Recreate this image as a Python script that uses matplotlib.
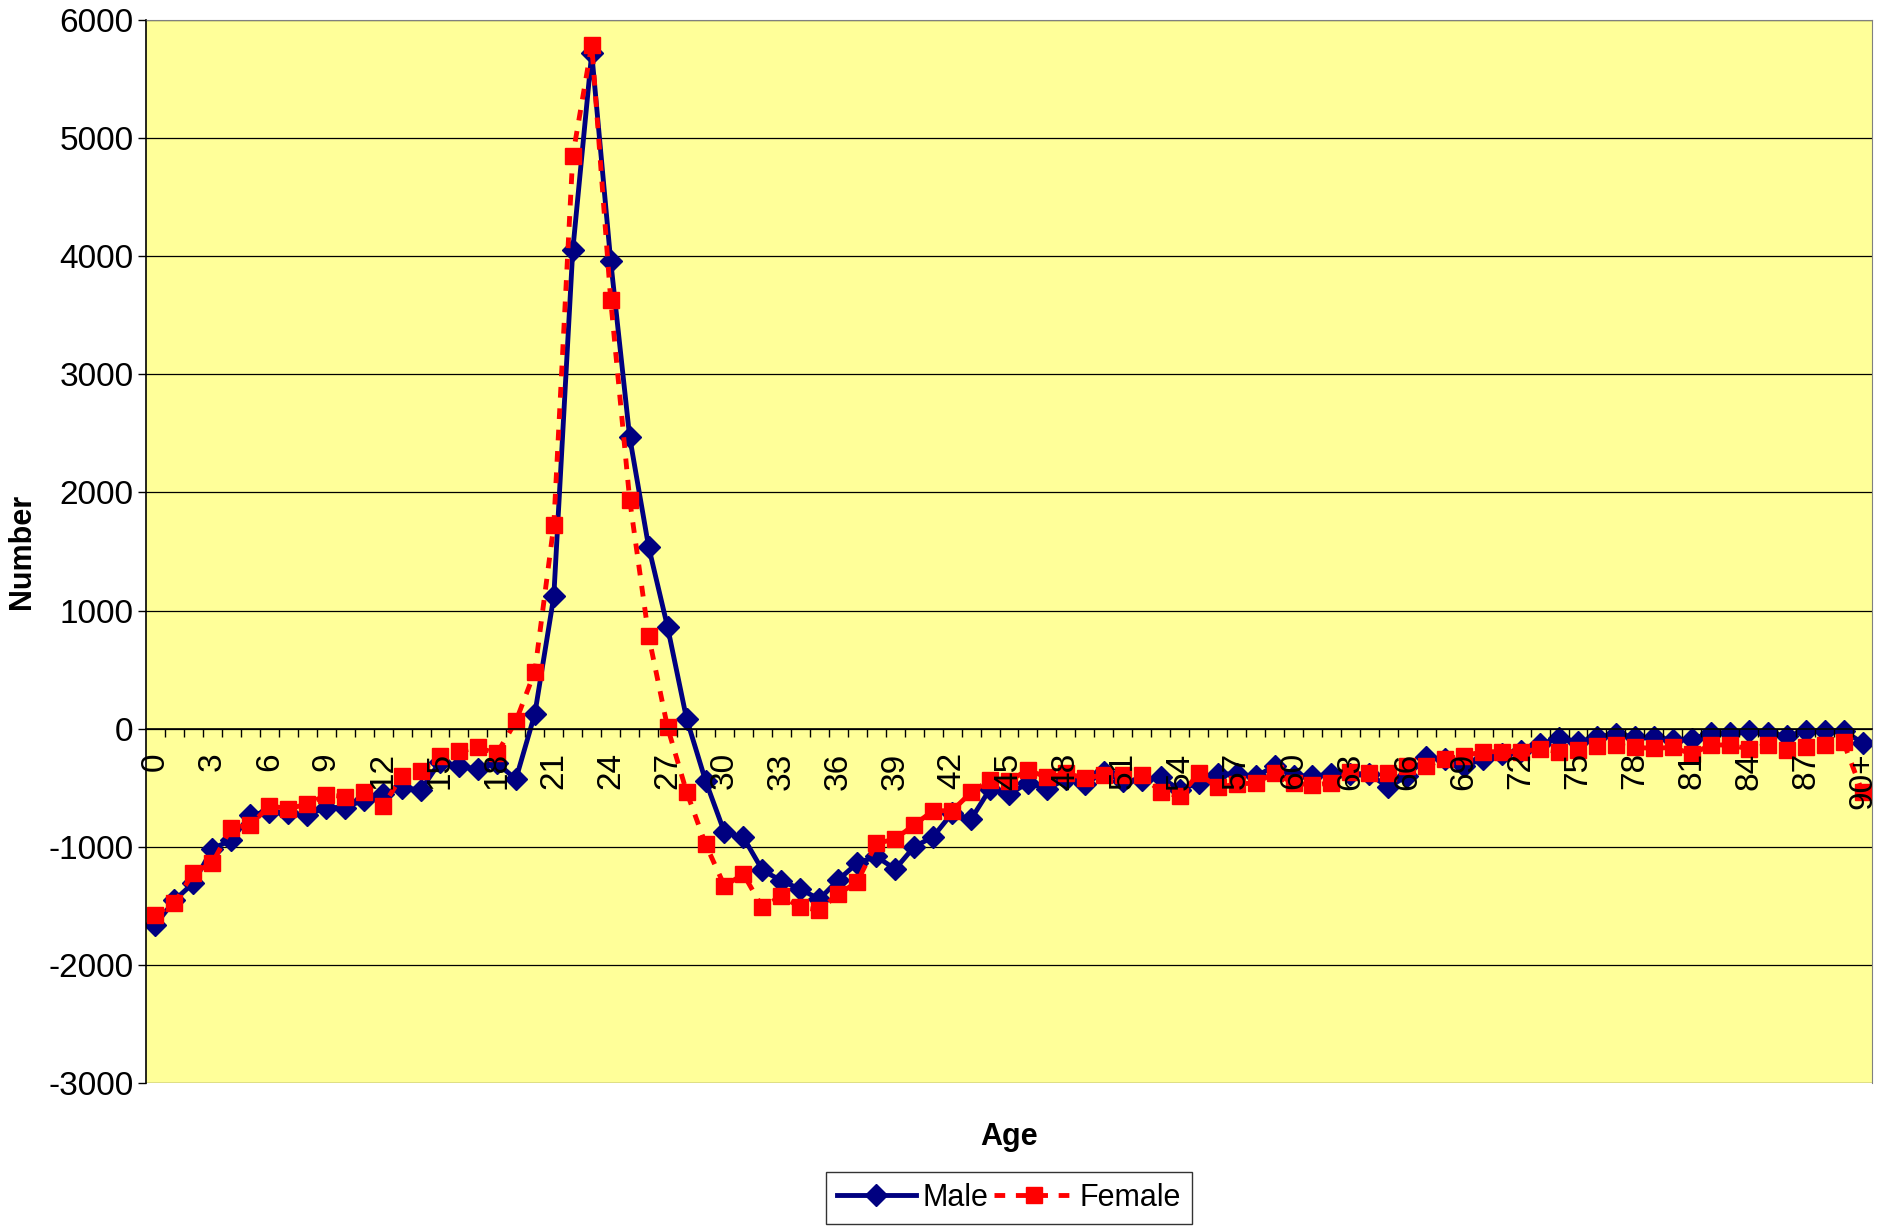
import numpy as np
import matplotlib.pyplot as plt

ages = [str(a) for a in range(90)] + ['90+']

male = [-1660, -1453, -1306, -1017, -943, -730, -702, -715, -730, -668,
        -668, -603, -549, -501, -518, -280, -320, -343, -290, -428,
        125, 1120, 4050, 5720, 3960, 2470, 1540, 860, 85, -441,
        -879, -921, -1198, -1288, -1359, -1444, -1280, -1138, -1082, -1189,
        -1000, -915, -715, -766, -511, -554, -460, -511, -427, -469,
        -370, -441, -432, -412, -517, -460, -384, -384, -404, -319,
        -398, -404, -384, -384, -384, -497, -398, -243, -257, -314,
        -257, -215, -186, -130, -82, -110, -73, -45, -73, -73,
        -96, -88, -37, -37, -17, -37, -65, -17, -17, -17,
        -121]

female = [-1575, -1475, -1220, -1136, -838, -816, -654, -677, -640, -561,
          -575, -535, -654, -399, -357, -229, -193, -159, -210, 62,
          484, 1723, 4850, 5790, 3630, 1940, 785, 10, -534, -977,
          -1331, -1232, -1514, -1415, -1514, -1534, -1401, -1297, -972, -935,
          -814, -695, -695, -540, -435, -441, -350, -412, -378, -418,
          -393, -393, -393, -534, -573, -379, -497, -469, -460, -376,
          -460, -477, -460, -370, -379, -379, -314, -314, -257, -229,
          -195, -195, -195, -172, -195, -178, -150, -138, -158, -167,
          -158, -215, -138, -138, -172, -138, -178, -158, -138, -116,
          -540]

y_ticks = list(range(-3000, 6001, 1000))


def main():
    plt.rcParams['font.family'] = ['Liberation Sans', 'DejaVu Sans']
    plt.rcParams['axes.unicode_minus'] = False
    W, H = 1877, 1231
    fig = plt.figure(figsize=(W / 100, H / 100), dpi=100)
    ax = fig.add_axes([146 / W, 1 - 1083 / H, (1872 - 146) / W, (1083 - 20) / H])
    ax.set_facecolor('#FFFF99')

    x = np.arange(len(ages))
    for v in y_ticks:
        ax.axhline(v, color='black', lw=0.9, zorder=1)

    ax.plot(x, male, color='#000080', lw=3.5, marker='D', ms=11, label='Male', zorder=2)
    ax.plot(x, female, color='#FF0000', lw=3.5, ls=(0, (2.2, 2.2)), marker='s', ms=11,
            label='Female', zorder=2)

    ax.set_axisbelow(False)
    ax.set_xlim(-0.5, 90.5)
    ax.set_ylim(-3000, 6000)
    ax.set_yticks(y_ticks)
    ax.tick_params(axis='y', direction='out', length=6, width=1, labelsize=24, pad=3)

    ax.spines['bottom'].set_position(('data', 0))
    ax.spines['bottom'].set_linewidth(1.2)
    ax.spines['left'].set_linewidth(1.2)
    ax.spines['top'].set_color('#808080')
    ax.spines['right'].set_color('#808080')

    ax.set_xticks(x[::3])
    ax.set_xticklabels(ages[::3], rotation=90)
    ax.set_xticks(np.arange(0.5, 90, 1), minor=True)
    ax.tick_params(axis='x', which='major', length=0, labelsize=24, pad=17)
    ax.tick_params(axis='x', which='minor', direction='out', length=6, width=1)

    fig.text(1009 / W, 1 - 1137 / H, 'Age', ha='center', va='center',
             fontsize=22, weight='bold')
    fig.text(22 / W, 1 - 551 / H, 'Number', ha='center', va='center',
             rotation=90, fontsize=22, weight='bold')

    leg = fig.legend(loc='center', bbox_to_anchor=(1009 / W, 1 - 1198 / H), ncol=2,
                     fontsize=22, frameon=True, fancybox=False, edgecolor='black',
                     handlelength=2.6, columnspacing=0.2, handletextpad=0.2,
                     borderpad=0.35, borderaxespad=0)
    leg.get_frame().set_linewidth(1)

    fig.savefig('out.png', dpi=100)


if __name__ == '__main__':
    main()
